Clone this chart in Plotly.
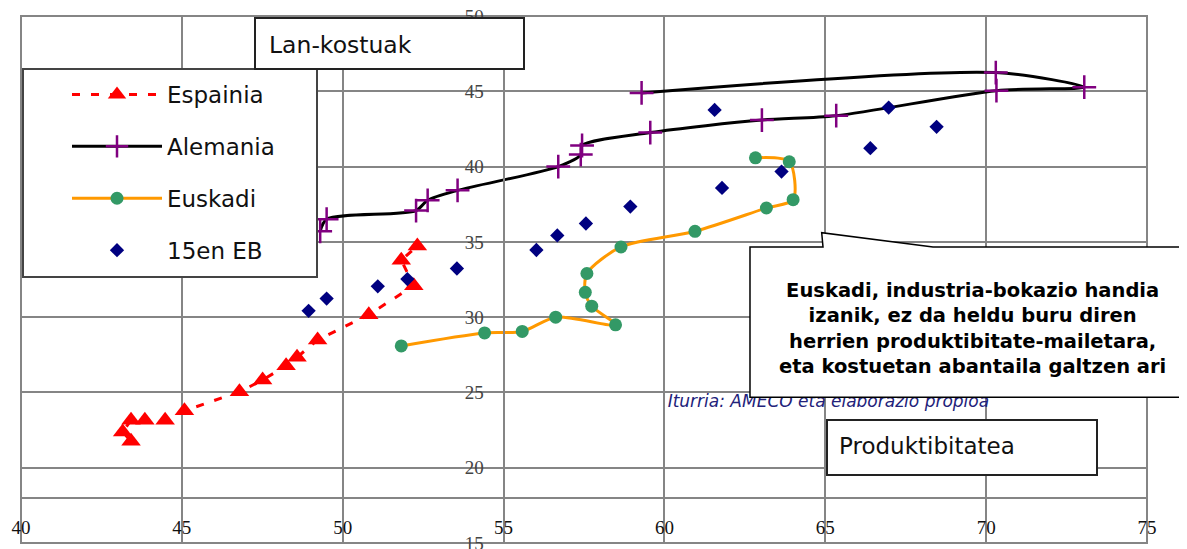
import plotly.graph_objects as go

# browser body margin offset (page is rendered with an 8px body margin)
OFF = 8
SCREEN_W, SCREEN_H = 1187, 549
W, H = SCREEN_W - OFF, SCREEN_H - OFF

# plot area in screen pixels
P_LEFT, P_RIGHT, P_TOP, P_BOTTOM = 21, 1147, 16, 543
ML = P_LEFT - OFF
MT = P_TOP - OFF
MR = W - (P_RIGHT - OFF)
MB = H - (P_BOTTOM - OFF)
PW = P_RIGHT - P_LEFT
PH = P_BOTTOM - P_TOP


def px(xp):
    return (xp - P_LEFT) / PW


def py(yp):
    return (P_BOTTOM - yp) / PH


# ---------------- data ----------------
x_ticks = [40, 45, 50, 55, 60, 65, 70, 75]
y_ticks = [15, 20, 25, 30, 35, 40, 45, 50]

espainia_x = [43.42, 43.16, 43.42, 43.85, 44.48, 45.08, 46.79, 47.51, 48.24, 48.58, 49.22, 50.81, 52.21, 51.82, 52.32]
espainia_y = [21.76, 22.38, 23.16, 23.16, 23.16, 23.78, 25.04, 25.82, 26.78, 27.33, 28.49, 30.16, 32.09, 33.78, 34.73]

alemania_x = [49.3, 49.5, 52.28, 52.64, 53.57, 56.7, 57.4, 57.44, 59.56, 63.03, 65.34, 70.32, 73.05, 70.30, 59.29]
alemania_y = [35.7, 36.5, 37.08, 37.76, 38.42, 40.0, 40.8, 41.4, 42.26, 43.09, 43.38, 45.04, 45.27, 46.24, 44.89]

euskadi_x = [51.82, 54.41, 55.58, 56.62, 58.48, 57.74, 57.54, 57.59, 58.65, 60.95, 63.17, 64.0, 63.88, 62.83]
euskadi_y = [28.09, 28.95, 29.05, 30.0, 29.49, 30.73, 31.65, 32.90, 34.66, 35.7, 37.25, 37.8, 40.32, 40.58]

eb15_x = [48.94, 49.50, 51.09, 52.01, 53.55, 56.02, 56.67, 57.56, 58.94, 61.79, 63.64, 61.56, 66.40, 66.97, 68.46]
eb15_y = [30.42, 31.23, 32.05, 32.53, 33.23, 34.46, 35.43, 36.22, 37.34, 38.58, 39.67, 43.76, 41.22, 43.92, 42.64]

source_text = "Iturria: AMECO eta elaborazio propioa"
source_x, source_y = 60.1, 24.3

y_title = "Lan-kostuak"
x_title = "Produktibitatea"
callout = ("Euskadi, industria-bokazio handia<br>izanik, ez da heldu buru diren<br>"
           "herrien produktibitate-mailetara,<br>eta kostuetan abantaila galtzen ari")

SANS = "DejaVu Sans"
SERIF = "Liberation Serif"
GRID = "#858585"

fig = go.Figure()

fig.add_trace(go.Scatter(
    x=espainia_x, y=espainia_y, mode="lines+markers", name="Espainia", legendgroup="g1",
    line=dict(color="#FF0000", width=3, dash="8px,11px"),
    marker=dict(symbol="triangle-up", size=17, color="#FF0000"),
))
fig.add_trace(go.Scatter(
    x=alemania_x, y=alemania_y, mode="lines+markers", name="Alemania", legendgroup="g2",
    line=dict(color="#000000", width=3, shape="spline", smoothing=0.8),
    marker=dict(symbol="cross-thin", size=17, color="#800080", line=dict(color="#800080", width=2.5)),
))
fig.add_trace(go.Scatter(
    x=euskadi_x, y=euskadi_y, mode="lines+markers", name="Euskadi", legendgroup="g3",
    line=dict(color="#FF9900", width=3, shape="spline", smoothing=0.8),
    marker=dict(symbol="circle", size=13, color="#339966"),
))
fig.add_trace(go.Scatter(
    x=eb15_x, y=eb15_y, mode="markers", name="15en EB", legendgroup="g4",
    marker=dict(symbol="diamond", size=11, color="#000080"),
))
fig.add_trace(go.Scatter(
    x=[source_x], y=[source_y], mode="text", text=["<i>" + source_text + "</i>"],
    textposition="middle right", showlegend=False, hoverinfo="skip",
    textfont=dict(family=SANS, size=17, color="#22227a"),
))

shapes = []
# plot border
shapes.append(dict(type="rect", xref="paper", yref="paper", x0=0, y0=0, x1=1, y1=1,
                   line=dict(color=GRID, width=2), layer="below"))
# legend box
shapes.append(dict(type="rect", xref="paper", yref="paper", x0=px(23), y0=py(277), x1=px(317), y1=py(69),
                   line=dict(color="#444444", width=2), fillcolor="white", layer="above"))
# y title box
shapes.append(dict(type="rect", xref="paper", yref="paper", x0=px(255), y0=py(69), x1=px(524), y1=py(18),
                   line=dict(color="#222222", width=2), fillcolor="white", layer="above"))
# x title box
shapes.append(dict(type="rect", xref="paper", yref="paper", x0=px(827), y0=py(475), x1=px(1097), y1=py(420),
                   line=dict(color="#222222", width=2), fillcolor="white", layer="above"))
# callout bubble
pts = [(750, 247), (823, 247), (821.7, 232.7), (933, 247), (1200, 247), (1200, 397.3), (750, 397.3)]
path = "M " + " L ".join(f"{px(a):.5f},{py(b):.5f}" for a, b in pts) + " Z"
shapes.append(dict(type="path", xref="paper", yref="paper", path=path,
                   line=dict(color="#000000", width=1.5), fillcolor="white", layer="above"))

annotations = [
    dict(xref="paper", yref="paper", x=px(267), y=py(45), xanchor="left", yanchor="middle",
         text=y_title, showarrow=False, font=dict(family=SANS, size=23.5, color="#111111")),
    dict(xref="paper", yref="paper", x=px(837), y=py(446), xanchor="left", yanchor="middle",
         text=x_title, showarrow=False, font=dict(family=SANS, size=23, color="#111111")),
    dict(xref="paper", yref="paper", x=px(972), y=py(328), xanchor="center", yanchor="middle",
         text=callout, showarrow=False, align="center",
         font=dict(family=SANS, size=19.5, color="#000000", weight="bold")),
]

fig.update_layout(
    width=W, height=H,
    margin=dict(l=ML, r=MR, t=MT, b=MB, pad=0, autoexpand=False),
    paper_bgcolor="white", plot_bgcolor="white",
    showlegend=True,
    legend=dict(
        x=px(67), y=py(73), xanchor="left", yanchor="top",
        bgcolor="rgba(0,0,0,0)", borderwidth=0,
        font=dict(family=SANS, size=23, color="#111111"),
        itemwidth=90, tracegroupgap=19, traceorder="grouped",
    ),
    xaxis=dict(
        range=[40, 75], tickvals=x_ticks, ticktext=[str(v) for v in x_ticks],
        showgrid=True, gridcolor=GRID, gridwidth=2, zeroline=False,
        showline=True, linecolor=GRID, linewidth=2,
        anchor="free", position=(18 - 15) / 35, automargin=False,
        ticks="", ticklabelstandoff=12, ticklabeloverflow="allow",
        tickfont=dict(family=SERIF, size=19, color="#111111"),
    ),
    yaxis=dict(
        range=[15, 50], tickvals=y_ticks, ticktext=[str(v) for v in y_ticks],
        showgrid=True, gridcolor=GRID, gridwidth=2, zeroline=False,
        showline=True, linecolor=GRID, linewidth=2,
        anchor="free", position=(55 - 40) / 35, automargin=False,
        ticks="", ticklabelstandoff=15, ticklabeloverflow="allow",
        tickfont=dict(family=SERIF, size=19, color="#444444"),
    ),
    shapes=shapes,
    annotations=annotations,
)

fig.write_html("out.html")
